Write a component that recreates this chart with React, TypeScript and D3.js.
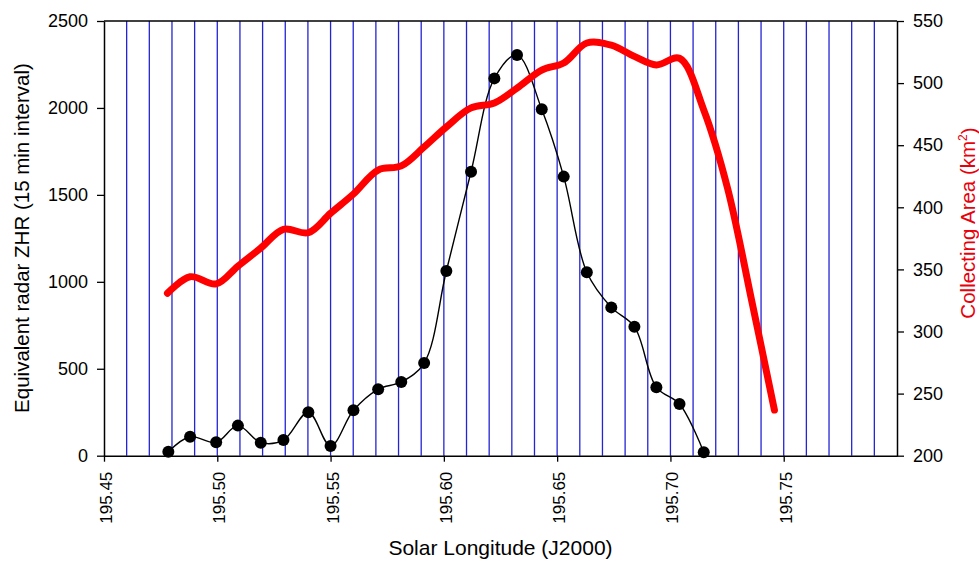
import * as d3 from "d3";
import { useEffect, useRef } from "react";

// radar ZHR, 15 min intervals
const solLong = [195.4784, 195.4880, 195.4995, 195.5091, 195.5192, 195.5292, 195.5402, 195.5500,
    195.5601, 195.5710, 195.5812, 195.5913, 195.6011, 195.6120, 195.6223, 195.6323,
    195.6432, 195.6529, 195.6631, 195.6739, 195.6841, 195.6938, 195.7040, 195.7147]
const zhr = [23, 109, 77, 173, 75, 90, 250, 56, 261, 382, 424, 533, 1062, 1633, 2170, 2304,
    1992, 1605, 1055, 853, 742, 393, 297, 20]

// collecting area (km^2)
const areaLong = [195.4780, 195.4880, 195.4995, 195.5091, 195.5192, 195.5292, 195.5402, 195.5500,
    195.5601, 195.5710, 195.5812, 195.5913, 195.6011, 195.6120, 195.6223, 195.6323,
    195.6432, 195.6529, 195.6631, 195.6739, 195.6841, 195.6938, 195.7040, 195.7147,
    195.7252, 195.7358, 195.7459]
const area = [330.8, 344.1, 338.3, 352.6, 367.2, 382.3, 379.6, 395.2, 410.7, 430, 433.3, 448.6,
    464.7, 480, 484, 496, 510.5, 516.2, 532.3, 530.5, 521.5, 514.6, 520, 478.4, 415.5, 325.4, 236.8]

const xTicks = [195.45, 195.50, 195.55, 195.60, 195.65, 195.70, 195.75]
const leftTicks = [0, 500, 1000, 1500, 2000, 2500]
const rightTicks = [200, 250, 300, 350, 400, 450, 500, 550]

export default function App() {
    const svgRef = useRef<SVGSVGElement>(null)
    const svgWidth = 979
    const svgHeight = 561
    const margin = { left: 104, right: 82, top: 21, bottom: 105.3 }

    useEffect(() => {
        const svg = d3.select(svgRef.current)
        svg.selectAll("*").remove()

        const x = d3.scaleLinear([195.45, 195.80], [margin.left, svgWidth - margin.right])
        const yL = d3.scaleLinear([0, 2500], [svgHeight - margin.bottom, margin.top])
        const yR = d3.scaleLinear([200, 550], [svgHeight - margin.bottom, margin.top])
        const font = "'Liberation Sans', Arial, sans-serif"

        // blue vertical grid every 0.01
        svg.append("g")
            .selectAll("line")
            .data(d3.range(1, 35).map(i => 195.45 + i * 0.01))
            .join("line")
                .attr("x1", d => x(d))
                .attr("x2", d => x(d))
                .attr("y1", yL(0))
                .attr("y2", yL(2500))
                .attr("stroke", "#2424d4")
                .attr("stroke-width", 1.3)

        // top frame
        svg.append("line")
            .attr("x1", x(195.45)).attr("x2", x(195.80))
            .attr("y1", yL(2500)).attr("y2", yL(2500))
            .attr("stroke", "black").attr("stroke-width", 1.5)

        // axes
        const styleAxis = (g: any) => {
            g.select(".domain").attr("stroke", "black").attr("stroke-width", 1.5)
            g.selectAll(".tick line").attr("stroke", "black").attr("stroke-width", 1.3)
            g.selectAll(".tick text").attr("fill", "black").attr("font-family", font)
        }

        svg.append("g")
            .attr("transform", `translate(${x(195.45)},0)`)
            .call(d3.axisLeft(yL).tickValues(leftTicks).tickFormat(d3.format("d")).tickSize(7).tickSizeOuter(0).tickPadding(9))
            .call(styleAxis)
            .call((g: any) => g.selectAll(".tick text").attr("font-size", 18))

        svg.append("g")
            .attr("transform", `translate(${x(195.80)},0)`)
            .call(d3.axisRight(yR).tickValues(rightTicks).tickFormat(d3.format("d")).tickSize(7).tickSizeOuter(0).tickPadding(9))
            .call(styleAxis)
            .call((g: any) => g.selectAll(".tick text").attr("font-size", 18))

        const xAxis = svg.append("g")
            .attr("transform", `translate(0,${yL(0)})`)
            .call(d3.axisBottom(x).tickValues(xTicks).tickFormat(d3.format(".2f")).tickSize(6).tickSizeOuter(0))
            .call(styleAxis)
        xAxis.selectAll(".tick text")
            .attr("font-size", 17)
            .attr("text-anchor", "end")
            .attr("transform", "translate(1.5,16) rotate(-90)")
            .attr("x", 0)
            .attr("y", 0)
            .attr("dy", "0.35em")

        // ZHR curve and points
        const zhrData = solLong.map((s, i) => ({ s, v: zhr[i] }))
        const zhrLine = d3.line<any>().x(d => x(d.s)).y(d => yL(d.v)).curve(d3.curveCatmullRom)
        svg.append("path")
            .datum(zhrData)
            .attr("fill", "none")
            .attr("stroke", "black")
            .attr("stroke-width", 1.4)
            .attr("d", zhrLine)

        svg.append("g")
            .selectAll("circle")
            .data(zhrData)
            .join("circle")
                .attr("cx", d => x(d.s))
                .attr("cy", d => yL(d.v))
                .attr("r", 6)
                .attr("fill", "black")

        // collecting area
        const areaData = areaLong.map((s, i) => ({ s, v: area[i] }))
        const areaLine = d3.line<any>().x(d => x(d.s)).y(d => yR(d.v)).curve(d3.curveCatmullRom)
        svg.append("path")
            .datum(areaData)
            .attr("fill", "none")
            .attr("stroke", "#ff0000")
            .attr("stroke-width", 7)
            .attr("stroke-linecap", "round")
            .attr("stroke-linejoin", "round")
            .attr("d", areaLine)

        // titles
        svg.append("text")
            .attr("x", 500.5)
            .attr("y", 555)
            .attr("text-anchor", "middle")
            .attr("font-family", font)
            .attr("font-size", 21)
            .text("Solar Longitude (J2000)")

        svg.append("text")
            .attr("transform", "translate(28.5,238) rotate(-90)")
            .attr("text-anchor", "middle")
            .attr("font-family", font)
            .attr("font-size", 20.5)
            .text("Equivalent radar ZHR (15 min interval)")

        const rt = svg.append("text")
            .attr("transform", "translate(975,223) rotate(-90)")
            .attr("text-anchor", "middle")
            .attr("font-family", font)
            .attr("font-size", 20.5)
            .attr("fill", "#e8000b")
        rt.append("tspan").text("Collecting Area (km")
        rt.append("tspan").attr("font-size", 12).attr("dy", "-0.7em").text("2")
        rt.append("tspan").attr("dy", "0.45em").text(")")
    }, [])

    return <svg ref={svgRef} width={svgWidth} height={svgHeight}
        viewBox={`0 0 ${svgWidth} ${svgHeight}`}
        style={{ position: "absolute", left: 0, top: 0, background: "white" }}
        xmlns="http://www.w3.org/2000/svg" />
}
